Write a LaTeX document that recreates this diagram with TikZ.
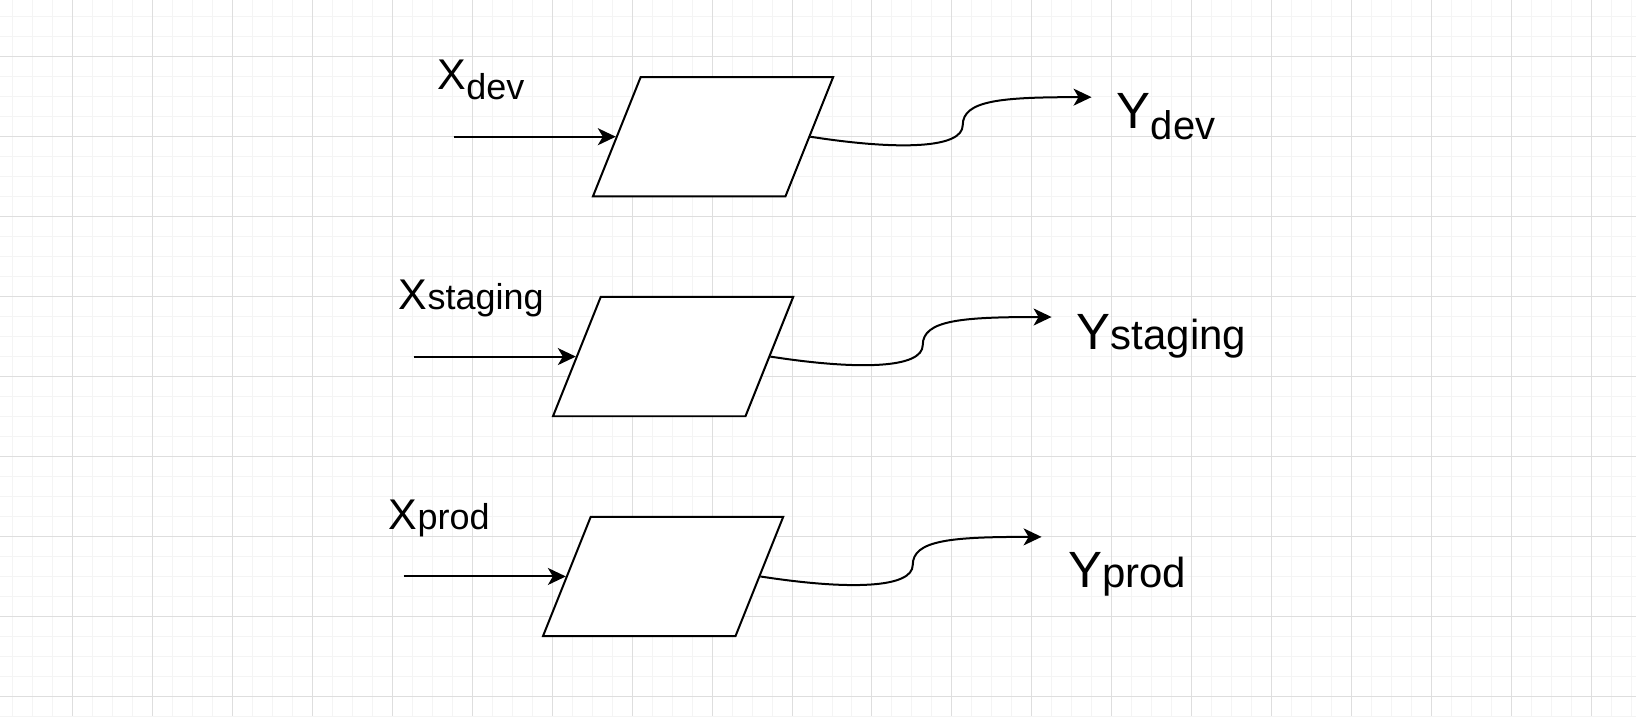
\documentclass[tikz,border=0pt]{standalone}
\usepackage{fontspec}
\setmainfont{Liberation Sans}
\usetikzlibrary{arrows.meta}
\definecolor{gridminor}{RGB}{244,244,244}
\definecolor{gridmajor}{RGB}{222,222,222}
\tikzset{
  minorline/.style={draw=gridminor,line width=0.5pt},
  majorline/.style={draw=gridmajor,line width=0.5pt},
  envbox/.style={rectangle,xslant=0.4,minimum width=96.3pt,minimum height=59.7pt,
    inner sep=0pt,draw,line width=1pt,fill=white},
  envarrow/.style={line width=1pt,-{Stealth[length=9pt,width=8.5pt,inset=2.5pt]}},
  envlabel/.style={anchor=base west,inner sep=0pt}
}

\begin{document}
\begin{tikzpicture}[x=0.5pt,y=-0.5pt]
% background and grid
\fill [white] (0,0) rectangle (1636,716);
\foreach \gx in {12,32,...,1632} \draw [minorline] (\gx,0) -- (\gx,716);
\foreach \gy in {16,36,...,716} \draw [minorline] (0,\gy) -- (1636,\gy);
\foreach \gx in {72,152,...,1632} \draw [majorline] (\gx,0) -- (\gx,716);
\foreach \gy in {56,136,...,716} \draw [majorline] (0,\gy) -- (1636,\gy);

% boxes
\node [envbox] (dev) at (713,136.3) {};
\node [envbox] (staging) at (673,356.3) {};
\node [envbox] (prod) at (663,576.3) {};

% labels
\node [envlabel] (xdev) at (437,89.3) {\fontsize{21.5}{24}\selectfont X\raisebox{-5pt}{\fontsize{18}{20}\selectfont dev}};
\node [envlabel] (xstaging) at (398.3,309.3) {\fontsize{21.5}{24}\selectfont X{\fontsize{18}{20}\selectfont staging}};
\node [envlabel] (xprod) at (388.3,529.3) {\fontsize{21.5}{24}\selectfont X{\fontsize{18}{20}\selectfont prod}};
\node [envlabel] (ydev) at (1116.7,128.3) {\fontsize{25.5}{28}\selectfont Y\raisebox{-5.5pt}{\fontsize{20}{22}\selectfont dev}};
\node [envlabel] (ystaging) at (1076.7,349.5) {\fontsize{25.5}{28}\selectfont Y{\fontsize{21}{24}\selectfont staging}};
\node [envlabel] (yprod) at (1068,587.3) {\fontsize{25.5}{28}\selectfont Y{\fontsize{21}{24}\selectfont prod}};

% free ends of the connectors
\coordinate (dev-in) at (453.3,136.3);
\coordinate (staging-in) at (413.3,356.3);
\coordinate (prod-in) at (403.3,576.3);
\coordinate (dev-out) at (1091.7,96.7);
\coordinate (staging-out) at (1051.7,316.7);
\coordinate (prod-out) at (1041.7,536.7);

% connectors
\draw [envarrow] (dev-in) -- (dev.west);
\draw [envarrow] (staging-in) -- (staging.west);
\draw [envarrow] (prod-in) -- (prod.west);
\draw [envarrow] (dev.east) .. controls +(90,14) and +(0,23) .. ++(152.5,-11.5)
  .. controls +(0,-25) and +(-90,0) .. (dev-out);
\draw [envarrow] (staging.east) .. controls +(90,14) and +(0,23) .. ++(152.5,-11.5)
  .. controls +(0,-25) and +(-90,0) .. (staging-out);
\draw [envarrow] (prod.east) .. controls +(90,14) and +(0,23) .. ++(152.5,-11.5)
  .. controls +(0,-25) and +(-90,0) .. (prod-out);
\end{tikzpicture}
\end{document}
